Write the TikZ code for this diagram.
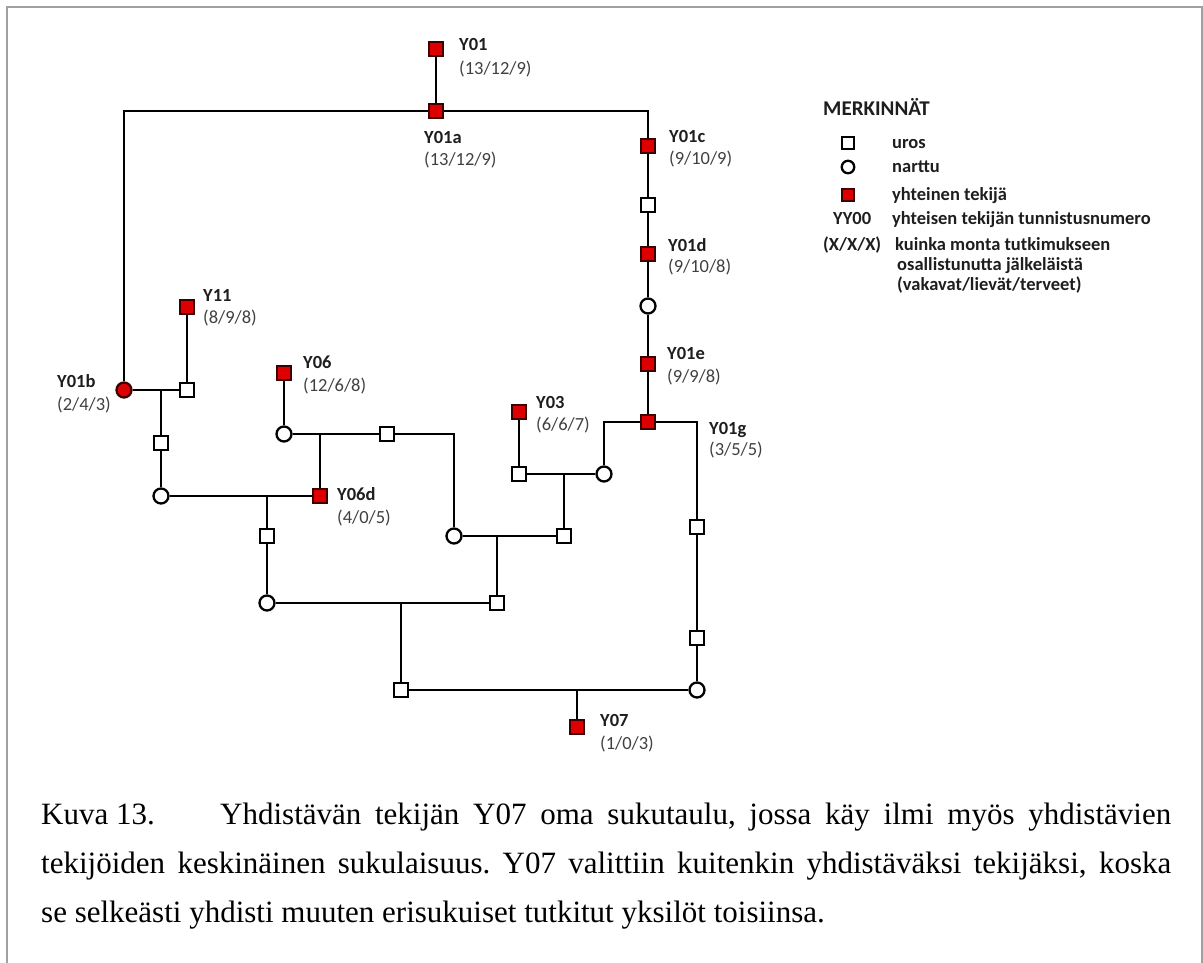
\documentclass[tikz,border=0pt]{standalone}
\usepackage{fontspec}
\setmainfont{Carlito}
\newfontfamily\capfont{Liberation Serif}
\usetikzlibrary{backgrounds}
\frenchspacing

\definecolor{founderred}{RGB}{222,0,0}
\definecolor{founderedge}{RGB}{60,0,0}
\definecolor{namegray}{RGB}{30,30,30}
\definecolor{countgray}{RGB}{64,64,64}
\definecolor{framegray}{RGB}{160,160,160}

\begin{document}
\begin{tikzpicture}[x=1pt,y=-1pt,
  kin/.style={line width=2.9pt, black},
  male/.style={rectangle, draw=black, line width=2.3pt, fill=white, minimum size=14.2pt, inner sep=0pt},
  female/.style={circle, draw=black, line width=2.3pt, fill=white, minimum size=15pt, inner sep=0pt},
  founder/.style={male, fill=founderred, draw=founderedge},
  founderf/.style={female, fill=founderred, draw=founderedge},
  nm/.style={anchor=base west, inner sep=0pt, font=\bfseries\fontsize{18.5}{22}\selectfont, text=namegray},
  ct/.style={anchor=base west, inner sep=0pt, font=\fontsize{18.5}{22}\selectfont, text=countgray},
  leg/.style={anchor=base west, inner sep=0pt, font=\bfseries\fontsize{18.5}{22}\selectfont, text=namegray},
  captxt/.style={anchor=base west, inner sep=0pt, font=\capfont\fontsize{31}{31}\selectfont, text=black},
]
\useasboundingbox (0,0) rectangle (1203,962);

% page frame
\draw[framegray, line width=2pt] (7,975) -- (7,7) -- (1201.5,7) -- (1201.5,975);

% --- individuals ---
\node[founder]  (Y01)  at (436,49) {};
\node[founder]  (Y01a) at (436,111) {};
\node[founderf] (Y01b) at (124,390) {};
\node[founder]  (Y01c) at (648,146) {};
\node[male]     (m1)   at (648,205) {};
\node[founder]  (Y01d) at (648,254) {};
\node[female]   (f1)   at (648,306) {};
\node[founder]  (Y01e) at (648,364) {};
\node[founder]  (Y01g) at (648,422) {};
\node[founder]  (Y11)  at (187,307) {};
\node[male]     (m2)   at (187,390) {};
\node[male]     (m3)   at (161,443) {};
\node[female]   (f2)   at (161,496) {};
\node[founder]  (Y06d) at (320,496) {};
\node[founder]  (Y06)  at (284,373) {};
\node[female]   (f3)   at (284,434) {};
\node[male]     (m4)   at (387,434) {};
\node[female]   (f4)   at (454,536) {};
\node[male]     (m5)   at (267,536) {};
\node[female]   (f5)   at (267,603) {};
\node[founder]  (Y03)  at (519,412) {};
\node[male]     (m6)   at (519,474) {};
\node[female]   (f6)   at (604,474) {};
\node[male]     (m7)   at (564,536) {};
\node[male]     (m8)   at (497,603) {};
\node[male]     (m9)   at (401,690) {};
\node[male]     (m10)  at (697,527) {};
\node[male]     (m11)  at (697,638) {};
\node[female]   (f7)   at (697,690) {};
\node[founder]  (Y07)  at (577,727) {};

% --- junctions where offspring lines leave a mating line ---
\coordinate (j1) at (161,390);
\coordinate (j2) at (267,496);
\coordinate (j3) at (320,434);
\coordinate (j4) at (564,474);
\coordinate (j5) at (497,536);
\coordinate (j6) at (401,603);
\coordinate (j7) at (577,690);

% --- descent and mating lines ---
\begin{pgfonlayer}{background}
\draw[kin] (Y01) -- (Y01a);
\draw[kin] (Y01a) -| (Y01b);
\draw[kin] (Y01a) -| (Y01c);
\draw[kin] (Y01c) -- (m1) -- (Y01d) -- (f1) -- (Y01e) -- (Y01g);
\draw[kin] (Y01g) -| (f6);
\draw[kin] (Y01g) -| (m10);
\draw[kin] (m10) -- (m11) -- (f7);
\draw[kin] (Y11) -- (m2);
\draw[kin] (Y01b) -- (m2);
\draw[kin] (j1) -- (m3) -- (f2);
\draw[kin] (f2) -- (Y06d);
\draw[kin] (j2) -- (m5) -- (f5);
\draw[kin] (Y06) -- (f3);
\draw[kin] (f3) -- (m4);
\draw[kin] (m4) -| (f4);
\draw[kin] (j3) -- (Y06d);
\draw[kin] (Y03) -- (m6);
\draw[kin] (m6) -- (f6);
\draw[kin] (j4) -- (m7);
\draw[kin] (f4) -- (m7);
\draw[kin] (j5) -- (m8);
\draw[kin] (f5) -- (m8);
\draw[kin] (j6) -- (m9);
\draw[kin] (m9) -- (f7);
\draw[kin] (j7) -- (Y07);
\end{pgfonlayer}

% --- founder labels ---
\node[nm] (nY01)  at (459,50)    {Y01};
\node[ct] (cY01)  at (459,74)    {(13/12/9)};
\node[nm] (nY01a) at (424,143)   {Y01a};
\node[ct] (cY01a) at (424,165.5) {(13/12/9)};
\node[nm] (nY01c) at (669,142)   {Y01c};
\node[ct] (cY01c) at (669,164.5) {(9/10/9)};
\node[nm] (nY01d) at (668,251)   {Y01d};
\node[ct] (cY01d) at (668,272.5) {(9/10/8)};
\node[nm] (nY01e) at (667,359)   {Y01e};
\node[ct] (cY01e) at (667,382.5) {(9/9/8)};
\node[nm] (nY01g) at (709,434)   {Y01g};
\node[ct] (cY01g) at (709,455.5) {(3/5/5)};
\node[nm] (nY11)  at (203,301)   {Y11};
\node[ct] (cY11)  at (203,323.5) {(8/9/8)};
\node[nm] (nY01b) at (57,387)    {Y01b};
\node[ct] (cY01b) at (57,410.5)  {(2/4/3)};
\node[nm] (nY06)  at (303,368.5) {Y06};
\node[ct] (cY06)  at (303,391)   {(12/6/8)};
\node[nm] (nY06d) at (337,500)   {Y06d};
\node[ct] (cY06d) at (337,523)   {(4/0/5)};
\node[nm] (nY03)  at (536,408.5) {Y03};
\node[ct] (cY03)  at (536,430.5) {(6/6/7)};
\node[nm] (nY07)  at (600,726)   {Y07};
\node[ct] (cY07)  at (600,749)   {(1/0/3)};

% --- key ---
\node[leg, font=\bfseries\fontsize{21}{24}\selectfont] (keyhead) at (823,115) {MERKINNÄT};
\node[male, minimum size=12pt]     (kmale)   at (848,143) {};
\node[female, minimum size=12.5pt] (kfemale) at (848,167) {};
\node[founder, minimum size=12pt]  (kfound)  at (848,195) {};
\node[leg] (t1) at (892,148)   {uros};
\node[leg] (t2) at (892,172.5) {narttu};
\node[leg] (t3) at (892,200)   {yhteinen tekijä};
\node[leg] (k4) at (833,224.5) {YY00};
\node[leg] (t4) at (892,224.5) {yhteisen tekijän tunnistusnumero};
\node[leg] (k5) at (823,250.5) {(X/X/X)};
\node[leg] (t5) at (895,250.5) {kuinka monta tutkimukseen};
\node[leg] (t6) at (897,270.5) {osallistunutta jälkeläistä};
\node[leg] (t7) at (897,290.5) {(vakavat/lievät/terveet)};

% --- caption ---
\node[captxt] (cap1a) at (41,824) {Kuva 13.};
\node[captxt] (cap1b) at (220,824) {\makebox[951pt][s]{Yhdistävän tekijän Y07 oma sukutaulu, jossa käy ilmi myös yhdistävien}};
\node[captxt] (cap2) at (41,873) {\makebox[1130pt][s]{tekijöiden keskinäinen sukulaisuus. Y07 valittiin kuitenkin yhdistäväksi tekijäksi, koska}};
\node[captxt] (cap3) at (41,922) {se selkeästi yhdisti muuten erisukuiset tutkitut yksilöt toisiinsa.};
\end{tikzpicture}
\end{document}
